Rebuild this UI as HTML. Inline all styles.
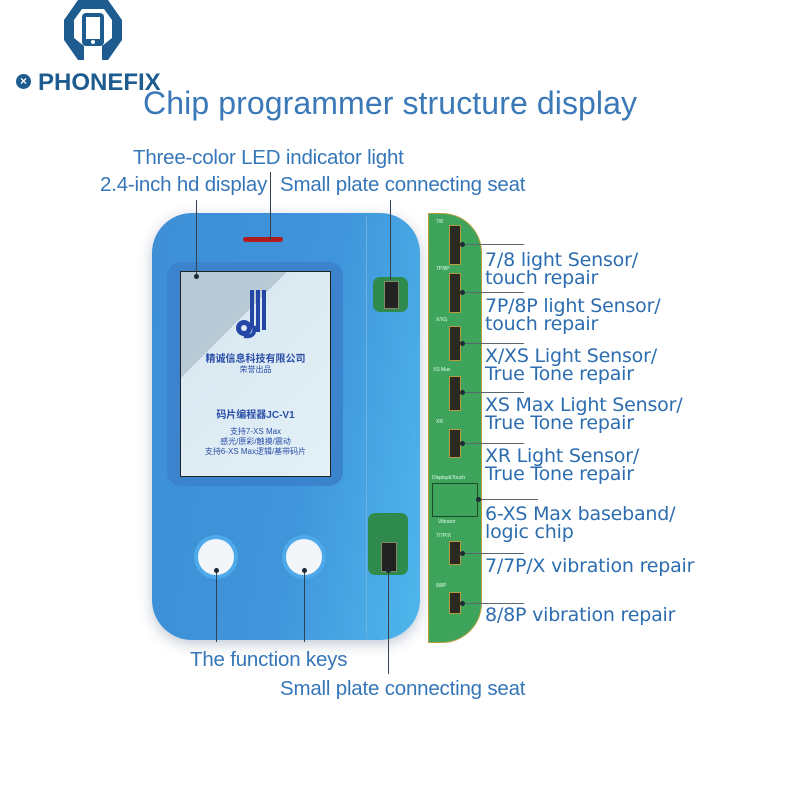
<!DOCTYPE html>
<html><head><meta charset="utf-8"><style>
body{margin:0;width:800px;height:800px;background:#fff;position:relative;overflow:hidden;font-family:"Liberation Sans","Noto Sans CJK SC",sans-serif}
.t{position:absolute;color:#3576b8;white-space:nowrap;font-size:20.5px;line-height:20px;letter-spacing:-0.2px}
.r{position:absolute;color:#2c6db0;white-space:nowrap;font-family:"DejaVu Sans",sans-serif;font-size:19px;line-height:18px;letter-spacing:-0.2px}
.ln{position:absolute;background:#34424f}
.h{position:absolute;height:1px;background:#5a6670}
.dot{position:absolute;width:5px;height:5px;border-radius:50%;background:#1c2a36}
</style></head><body>
<svg style="position:absolute;left:60px;top:0" width="66" height="62" viewBox="0 0 66 62">
<path d="M18 0 L48 0 L62 20 L62 40 L48 60 L42 60 L42 46 L52 38 L52 20 L44 9 L22 9 L14 20 L14 38 L24 46 L24 60 L18 60 L4 40 L4 20 Z" fill="#1e5b8e"/>
<rect x="22" y="13" width="22" height="33" rx="4" fill="#1e5b8e"/>
<rect x="26" y="17" width="14" height="22" fill="#fff"/>
<circle cx="33" cy="42" r="2" fill="#fff"/>
</svg>
<div style="position:absolute;left:16px;top:74px;width:15px;height:15px;border-radius:50%;background:#1e5b8e;color:#fff;font-size:12px;line-height:15px;text-align:center;font-weight:bold">×</div>
<div style="position:absolute;left:38px;top:69px;font-size:24px;font-weight:bold;color:#1e5b8e;letter-spacing:0px">PHONEFIX</div>
<div style="position:absolute;left:143px;top:85px;font-size:32px;color:#3a78b8;letter-spacing:0.1px">Chip programmer structure display</div>

<div class="t" style="left:133px;top:148px">Three-color LED indicator light</div>
<div class="t" style="left:100px;top:175px">2.4-inch hd display</div>
<div class="t" style="left:280px;top:175px">Small plate connecting seat</div>

<div style="position:absolute;left:152px;top:213px;width:268px;height:427px;border-radius:40px;background:linear-gradient(100deg,#3e8fd6 0%,#3f94da 55%,#4fb7ec 100%);box-shadow:0 4px 14px rgba(0,40,90,.25)"></div>
<div style="position:absolute;left:366px;top:216px;width:1px;height:422px;background:#6bb3e3"></div>
<div style="position:absolute;left:243px;top:237px;width:40px;height:5px;border-radius:3px;background:#b21c1c"></div>
<div style="position:absolute;left:167px;top:262px;width:176px;height:224px;border-radius:14px;background:#3b84cd"></div>
<div style="position:absolute;left:180px;top:271px;width:149px;height:204px;border:1.5px solid #222;background:linear-gradient(135deg,#b8cad6 0%,#b8cad6 30%,#dbe9f2 30%,#e3f0f7 100%);overflow:hidden">
 <svg style="position:absolute;left:53px;top:18px" width="45" height="50" viewBox="0 0 45 50">
 <rect x="16" y="0" width="4" height="38" fill="#2447a6"/><rect x="22" y="0" width="4" height="42" fill="#2447a6"/><rect x="28" y="0" width="4" height="40" fill="#2447a6"/>
 <circle cx="10" cy="38" r="8" fill="#2447a6"/><circle cx="10" cy="38" r="3" fill="#dbe9f2"/><path d="M10 46 Q22 48 20 36" stroke="#2447a6" stroke-width="4" fill="none"/>
 </svg>
 <div style="position:absolute;left:0;width:149px;top:78px;text-align:center;font-size:10px;color:#2a4ea8;font-weight:bold">精诚信息科技有限公司</div>
 <div style="position:absolute;left:0;width:149px;top:92px;text-align:center;font-size:8px;color:#2a4ea8">荣誉出品</div>
 <div style="position:absolute;left:0;width:149px;top:134px;text-align:center;font-size:10px;color:#2a4ea8;font-weight:bold">码片编程器JC-V1</div>
 <div style="position:absolute;left:0;width:149px;top:155px;text-align:center;font-size:8px;line-height:10px;color:#2a4ea8">支持7-XS Max<br>感光/原彩/触摸/震动<br>支持6-XS Max逻辑/基带码片</div>
</div>
<div style="position:absolute;left:194px;top:535px;width:36px;height:36px;border-radius:50%;background:#f3f6f8;border:4px solid #4eaaea"></div>
<div style="position:absolute;left:282px;top:535px;width:36px;height:36px;border-radius:50%;background:#f3f6f8;border:4px solid #4eaaea"></div>
<div style="position:absolute;left:373px;top:277px;width:35px;height:35px;border-radius:7px;background:#2f8a4e"></div>
<div style="position:absolute;left:384px;top:281px;width:13px;height:26px;background:#222;border:1px solid #886"></div>
<div style="position:absolute;left:368px;top:513px;width:40px;height:62px;border-radius:7px;background:#2f8a4e"></div>
<div style="position:absolute;left:381px;top:542px;width:14px;height:28px;background:#222;border:1px solid #886"></div>

<div style="position:absolute;left:428px;top:213px;width:52px;height:428px;background:#3fa45b;border:1px solid #b8a040;border-radius:0 40px 40px 0"></div>
<div style="position:absolute;left:436px;top:219px;font-size:5px;color:#dfe">7/8</div>
<div style="position:absolute;left:436px;top:266px;font-size:5px;color:#dfe">7P/8P</div>
<div style="position:absolute;left:436px;top:317px;font-size:5px;color:#dfe">X/XS</div>
<div style="position:absolute;left:433px;top:367px;font-size:5px;color:#dfe">XS Max</div>
<div style="position:absolute;left:436px;top:419px;font-size:5px;color:#dfe">XR</div>
<div style="position:absolute;left:432px;top:475px;font-size:5px;color:#dfe">Display&amp;Touch</div>
<div style="position:absolute;left:432px;top:483px;width:44px;height:32px;border:1px solid #1f4a2a"></div>
<div style="position:absolute;left:438px;top:519px;font-size:5px;color:#dfe">Vibrator</div>
<div style="position:absolute;left:436px;top:533px;font-size:5px;color:#dfe">7/7P/X</div>
<div style="position:absolute;left:436px;top:583px;font-size:5px;color:#dfe">8/8P</div>
<div style="position:absolute;left:449px;top:225px;width:10px;height:38px;background:#2a2a22;border:1px solid #b89a40"></div>
<div style="position:absolute;left:449px;top:273px;width:10px;height:38px;background:#2a2a22;border:1px solid #b89a40"></div>
<div style="position:absolute;left:449px;top:326px;width:10px;height:33px;background:#2a2a22;border:1px solid #b89a40"></div>
<div style="position:absolute;left:449px;top:376px;width:10px;height:33px;background:#2a2a22;border:1px solid #b89a40"></div>
<div style="position:absolute;left:449px;top:429px;width:10px;height:27px;background:#2a2a22;border:1px solid #b89a40"></div>
<div style="position:absolute;left:449px;top:541px;width:10px;height:22px;background:#2a2a22;border:1px solid #b89a40"></div>
<div style="position:absolute;left:449px;top:592px;width:10px;height:20px;background:#2a2a22;border:1px solid #b89a40"></div>

<div class="h" style="left:462px;top:244px;width:62px"></div>
<div class="h" style="left:462px;top:292px;width:62px"></div>
<div class="h" style="left:462px;top:343px;width:62px"></div>
<div class="h" style="left:462px;top:392px;width:62px"></div>
<div class="h" style="left:462px;top:443px;width:62px"></div>
<div class="h" style="left:478px;top:499px;width:60px"></div>
<div class="h" style="left:462px;top:553px;width:62px"></div>
<div class="h" style="left:462px;top:603px;width:62px"></div>
<div class="dot" style="left:460px;top:242px"></div><div class="dot" style="left:460px;top:290px"></div>
<div class="dot" style="left:460px;top:341px"></div><div class="dot" style="left:460px;top:390px"></div>
<div class="dot" style="left:460px;top:441px"></div><div class="dot" style="left:476px;top:497px"></div>
<div class="dot" style="left:460px;top:551px"></div><div class="dot" style="left:460px;top:601px"></div>

<div class="r" style="left:485px;top:251px">7/8 light Sensor/<br>touch repair</div>
<div class="r" style="left:485px;top:297px">7P/8P light Sensor/<br>touch repair</div>
<div class="r" style="left:485px;top:347px">X/XS Light Sensor/<br>True Tone repair</div>
<div class="r" style="left:485px;top:396px">XS Max Light Sensor/<br>True Tone repair</div>
<div class="r" style="left:485px;top:447px">XR Light Sensor/<br>True Tone repair</div>
<div class="r" style="left:485px;top:505px">6-XS Max baseband/<br>logic chip</div>
<div class="r" style="left:485px;top:557px">7/7P/X vibration repair</div>
<div class="r" style="left:485px;top:606px">8/8P vibration repair</div>

<div class="ln" style="left:196px;top:200px;width:1px;height:77px"></div><div class="dot" style="left:194px;top:274px"></div>
<div class="ln" style="left:270px;top:172px;width:1px;height:68px"></div>
<div class="ln" style="left:390px;top:200px;width:1px;height:80px"></div>

<div class="ln" style="left:216px;top:570px;width:1px;height:72px"></div><div class="dot" style="left:214px;top:568px"></div>
<div class="ln" style="left:304px;top:570px;width:1px;height:72px"></div><div class="dot" style="left:302px;top:568px"></div>
<div class="ln" style="left:388px;top:570px;width:1px;height:104px"></div><div class="dot" style="left:386px;top:568px"></div>
<div class="t" style="left:190px;top:650px">The function keys</div>
<div class="t" style="left:280px;top:679px">Small plate connecting seat</div>
</body></html>
